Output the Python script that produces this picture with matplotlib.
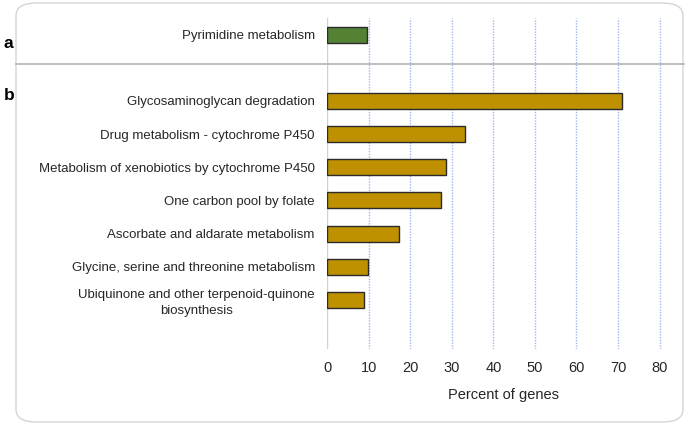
import numpy as np
import matplotlib
matplotlib.use('Agg')
import matplotlib.pyplot as plt
from matplotlib.patches import FancyBboxPatch

plt.rcParams['font.family'] = ['Liberation Sans', 'DejaVu Sans']

# Panel a
cat_a = ['Pyrimidine metabolism']
val_a = [9.6]

# Panel b
cat_b = ['Glycosaminoglycan degradation',
         'Drug metabolism - cytochrome P450',
         'Metabolism of xenobiotics by cytochrome P450',
         'One carbon pool by folate',
         'Ascorbate and aldarate metabolism',
         'Glycine, serine and threonine metabolism',
         'Ubiquinone and other terpenoid-quinone\nbiosynthesis']
val_b = [71.0, 33.2, 28.6, 27.3, 17.3, 9.9, 8.9]

xticks = [0, 10, 20, 30, 40, 50, 60, 70, 80]

W, H = 685, 424
fig = plt.figure(figsize=(W / 100, H / 100), dpi=100)

# rounded frame round the whole chart
frame = FancyBboxPatch((16 / W, 2 / H), 667 / W, 419 / H,
                       boxstyle='round,pad=0,rounding_size=0.03',
                       transform=fig.transFigure, fc='none', ec='#d4d4d4',
                       lw=1.0, zorder=0)
fig.patches.append(frame)

ax = fig.add_axes([327.3 / W, 1 - 349 / H, 353 / W, 331 / H])
ax.set_facecolor('none')

pos_b = np.arange(len(cat_b))
pos_a = np.array([-2.0])
h = 0.48

ax.barh(pos_a, val_a, height=h, color='#548235', edgecolor='#2b2b2b',
        linewidth=1.0, zorder=3)
ax.barh(pos_b, val_b, height=h, color='#bf9000', edgecolor='#2b2b2b',
        linewidth=1.0, zorder=3)

ax.set_xlim(0, 85)
ax.set_ylim(7.48, -2.5)
ax.set_xticks(xticks)
ax.set_yticks(np.concatenate([pos_a, pos_b]))
ax.set_yticklabels(cat_a + cat_b, multialignment='center', linespacing=1.45)

for x in xticks[1:]:
    ax.axvline(x, color='#9fb6ea', lw=1.0, ls=(0, (1, 1)), zorder=1)
ax.axvline(0, color='#d0d0d0', lw=1.0, zorder=2)

for s in ax.spines.values():
    s.set_visible(False)
ax.tick_params(axis='both', length=0, colors='#262626')
ax.tick_params(axis='y', pad=9, labelsize=9.5)
ax.tick_params(axis='x', pad=9, labelsize=10.5)
ax.set_xlabel('Percent of genes', fontsize=10.5, color='#262626', labelpad=9)

# separator between panels a and b
fig.add_artist(plt.Line2D([16 / W, 684 / W], [1 - 63.5 / H, 1 - 63.5 / H],
                          color='#b4b4b4', lw=1.2, transform=fig.transFigure))

fig.text(4 / W, 1 - 43 / H, 'a', fontsize=12.5, fontweight='bold', va='center')
fig.text(4 / W, 1 - 95 / H, 'b', fontsize=12.5, fontweight='bold', va='center')

fig.savefig('out.png', dpi=100)
